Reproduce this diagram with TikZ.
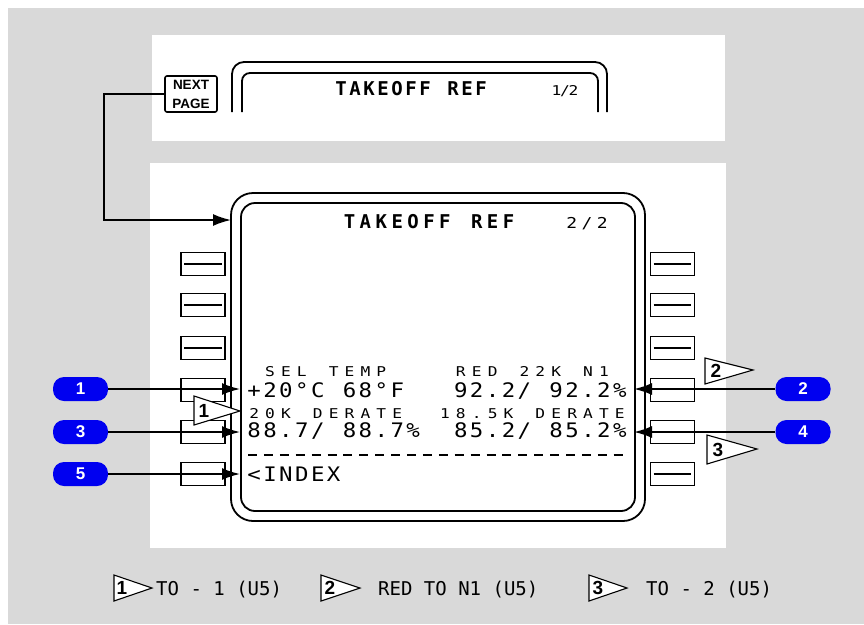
\documentclass[tikz,border=0pt]{standalone}
\usepackage{fontspec}
\usetikzlibrary{arrows.meta}
\newfontfamily\cdufont[FakeStretch=1.12]{DejaVu Sans Mono}
\newfontfamily\cdusmall[FakeStretch=1.2]{DejaVu Sans Mono}
\newfontfamily\legfont{DejaVu Sans Mono}
\newfontfamily\lblfont{Liberation Sans}
\definecolor{bggray}{RGB}{217,217,217}
\definecolor{pillblue}{RGB}{0,0,240}
\makeatletter
\newcommand\spchars[2]{\def\sp@pitch{#1}\sp@loop#2\relax}
\def\sp@loop#1{\ifx#1\relax\else\makebox[\sp@pitch][c]{\ifx#1*\else#1\fi}\expandafter\sp@loop\fi}
\makeatother
\tikzset{
  x=1pt, y=-1pt,
  keybox/.style={draw, line width=1.8pt, minimum width=44pt, minimum height=23pt, inner sep=0pt},
  pill/.style={fill=pillblue, rounded corners=11pt, minimum width=55pt, minimum height=24pt, inner sep=0pt,
    text=white, font=\lblfont\bfseries\fontsize{17}{17}\selectfont},
  conn/.style={line width=1.8pt},
  tipL/.style={-{Latex[length=18pt,width=12pt]}},
  big/.style={anchor=base west, inner sep=0pt, font=\cdufont\fontsize{20}{20}\selectfont},
  small/.style={anchor=base west, inner sep=0pt, font=\cdusmall\fontsize{13.5}{13.5}\selectfont},
  title/.style={anchor=base west, inner sep=0pt, font=\legfont\bfseries\fontsize{19}{19}\selectfont},
  marker/.style={draw, fill=white, line width=1.1pt},
  mnum/.style={inner sep=0pt, font=\lblfont\bfseries\fontsize{19}{19}\selectfont},
  leg/.style={anchor=base west, inner sep=0pt, font=\legfont\fontsize{19}{19}\selectfont},
}
\begin{document}
\begin{tikzpicture}
\useasboundingbox (0,0) rectangle (864,624);
\fill[bggray] (8,8) rectangle (864,624);
\fill[white] (152,35) rectangle (725,141);
\fill[white] (150,163) rectangle (726,548);

% top CDU (page 1/2)
\draw[line width=1.8pt, rounded corners=12pt] (232,112) -- (232,62) -- (607,62) -- (607,112);
\draw[line width=1.8pt, rounded corners=8pt] (242,112) -- (242,73) -- (598,73) -- (598,112);
\node[title] (t1) at (334,95) {\spchars{14pt}{TAKEOFF*REF}};
\node[anchor=base west, inner sep=0pt, font=\cdusmall\fontsize{13.5}{13.5}\selectfont] (pg1) at (552,95) {\spchars{8.5pt}{1/2}};

% NEXT PAGE key
\node[draw, line width=1.6pt, rounded corners=2pt, minimum width=52pt, minimum height=36pt, inner sep=0pt,
  align=center, font=\lblfont\bfseries\fontsize{13.5}{19}\selectfont] (next) at (191,94) {NEXT\\PAGE};

% main CDU (page 2/2)
\draw[line width=1.8pt, rounded corners=22pt] (231,193) rectangle (645,521);
\draw[line width=1.8pt, rounded corners=14pt] (241,203) rectangle (635,511);
\coordinate (cduL) at (231,220);
\draw[conn, tipL] (next.west) -- (104,94) |- (cduL);

\node[title] (t2) at (341.4,228) {\spchars{15.9pt}{TAKEOFF*REF}};
\node[anchor=base west, inner sep=0pt, font=\cdusmall\fontsize{15}{15}\selectfont] (pg2) at (564,228) {\spchars{15.2pt}{2/2}};

\node[small] (sel) at (261.9,376) {\spchars{15.9pt}{SEL*TEMP}};
\node[small] (red) at (452.7,376) {\spchars{15.9pt}{RED*22K*N1}};
\node[big] (temp) at (246,397) {\spchars{15.9pt}{+20°C*68°F}};
\node[big] (n1a) at (452.7,397) {\spchars{15.9pt}{92.2/*92.2\%}};
\node[small] (d20) at (246,418) {\spchars{15.9pt}{20K*DERATE}};
\node[small] (d18) at (436.8,418) {\spchars{15.9pt}{18.5K*DERATE}};
\node[big] (n1b) at (246,437) {\spchars{15.9pt}{88.7/*88.7\%}};
\node[big] (n1c) at (452.7,437) {\spchars{15.9pt}{85.2/*85.2\%}};
\coordinate (dashA) at (248,455);
\coordinate (dashB) at (628,455);
\draw[line width=1.5pt, dash pattern=on 9pt off 6.9pt] (dashA) -- (dashB);
\node[big] (idx) at (246,481) {\spchars{15.9pt}{<INDEX}};

% line select keys
\foreach \i/\y in {1/264,2/305,3/348,4/390,5/432,6/474}{
  \node[keybox] (kL\i) at (203,\y) {};
  \node[keybox] (kR\i) at (672.5,\y) {};
}
\foreach \k in {kL1,kL2,kL3,kR1,kR2,kR3,kR6}{
  \draw[line width=1.8pt] ([xshift=4pt]\k.west) -- ([xshift=-4pt]\k.east);
}

% callout pills and arrows
\node[pill] (p1) at (80.5,389) {1};
\node[pill] (p3) at (80.5,432) {3};
\node[pill] (p5) at (80.5,474) {5};
\node[pill] (p2) at (803,389) {2};
\node[pill] (p4) at (803,432) {4};
\coordinate (aL4) at (240,389);
\coordinate (aL5) at (240,432);
\coordinate (aL6) at (240,474);
\coordinate (aR4) at (634,389);
\coordinate (aR5) at (634,432);
\draw[conn, tipL] (p1.east) -- (aL4);
\draw[conn, tipL] (p3.east) -- (aL5);
\draw[conn, tipL] (p5.east) -- (aL6);
\draw[conn, tipL] (p2.west) -- (aR4);
\draw[conn, tipL] (p4.west) -- (aR5);

% option markers in the display
\draw[marker] (194,396) -- (240,411) -- (194,425) -- cycle;
\node[mnum] (m1) at (204,411) {1};
\draw[marker] (705,358) -- (753,370) -- (705,384) -- cycle;
\node[mnum] (m2) at (716,371) {2};
\draw[marker] (707,435) -- (757,449) -- (707,464) -- cycle;
\node[mnum] (m3) at (718,450) {3};

% legend
\draw[marker] (114,575) -- (152,588) -- (114,601) -- cycle;
\node[mnum] (l1) at (122,588) {1};
\node[leg] (lt1) at (156,595) {TO - 1 (U5)};
\draw[marker] (321,575) -- (360,588) -- (321,601) -- cycle;
\node[mnum] (l2) at (330,588) {2};
\node[leg] (lt2) at (378,595) {RED TO N1 (U5)};
\draw[marker] (589,575) -- (627,588) -- (589,601) -- cycle;
\node[mnum] (l3) at (598,588) {3};
\node[leg] (lt3) at (646,595) {TO - 2 (U5)};
\end{tikzpicture}
\end{document}
